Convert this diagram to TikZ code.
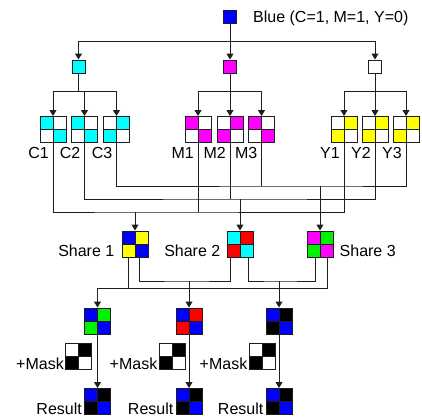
\documentclass[tikz,border=0pt]{standalone}
\usepackage{fontspec}
\setmainfont{Liberation Sans}
\usetikzlibrary{positioning,arrows.meta,calc}
\definecolor{edge}{RGB}{30,30,30}
\definecolor{pblue}{RGB}{0,0,255}
\definecolor{pcyan}{RGB}{0,255,255}
\definecolor{pmag}{RGB}{255,0,255}
\definecolor{pyel}{RGB}{255,255,0}
\definecolor{pred}{RGB}{255,0,0}
\definecolor{pgreen}{RGB}{0,240,0}

\begin{document}
\begin{tikzpicture}[
  >={Triangle[width=7pt,length=6pt]},
  x=1pt,y=-1pt,
  font=\fontsize{16}{18}\selectfont,
  wire/.style={line width=1pt, draw=edge},
  dot/.style={draw=edge, line width=1pt, minimum size=13pt, inner sep=0pt, fill=#1},
  quad/.style n args={4}{draw=edge, line width=1pt, minimum size=26pt, inner sep=0pt,
    path picture={
      \fill[#1] (path picture bounding box.north west) rectangle (path picture bounding box.center);
      \fill[#2] (path picture bounding box.north east) rectangle (path picture bounding box.center);
      \fill[#3] (path picture bounding box.south west) rectangle (path picture bounding box.center);
      \fill[#4] (path picture bounding box.south east) rectangle (path picture bounding box.center);
      \draw[edge, line width=1pt] (path picture bounding box.north) -- (path picture bounding box.south)
        (path picture bounding box.west) -- (path picture bounding box.east);
    }},
  lab/.style={inner sep=0pt}
]
\useasboundingbox (0,0) rectangle (422,418);

% top: the colour and its three channels
\node[dot=pblue] (blue) at (230,16.5) {};
\node[lab, anchor=base west] (bluetxt) at ([xshift=16pt,yshift=1pt]blue.south east) {Blue (C=1, M=1, Y=0)};

\node[dot=pcyan] (cy) at (78.5,66.5) {};
\node[dot=pmag] (mg) at (230,66.5) {};
\node[dot=white] (wh) at (375,66.5) {};

\coordinate (top) at (230,41);
\draw[wire,->] (blue) -- (mg);
\draw[wire,->] (top) -| (cy);
\draw[wire,->] (top) -| (wh);

% channel patterns
\node[quad={pcyan}{white}{white}{pcyan}] (c1) at (53,129.5) {};
\node[quad={pcyan}{white}{white}{pcyan}] (c2) at (84.5,129.5) {};
\node[quad={white}{pcyan}{pcyan}{white}] (c3) at (116.5,129.5) {};
\node[quad={pmag}{white}{white}{pmag}] (m1) at (198,129.5) {};
\node[quad={white}{pmag}{pmag}{white}] (m2) at (230,129.5) {};
\node[quad={pmag}{white}{white}{pmag}] (m3) at (261.5,129.5) {};
\node[quad={white}{pyel}{pyel}{white}] (y1) at (344,129.5) {};
\node[quad={white}{pyel}{pyel}{white}] (y2) at (375,129.5) {};
\node[quad={white}{pyel}{pyel}{white}] (y3) at (406,129.5) {};

\foreach \q/\t in {c1/C1,c2/C2,c3/C3,m1/M1,m2/M2,m3/M3,y1/Y1,y2/Y2,y3/Y3}
  \node[lab, anchor=north east] (l\q) at ([xshift=-4pt,yshift=-4.5pt]\q.south) {\t};

\coordinate (jc) at (cy.south |- 0,91);
\coordinate (jm) at (mg.south |- 0,91);
\coordinate (jw) at (wh.south |- 0,91);
\draw[wire] (cy) -- (jc);
\draw[wire] (mg) -- (jm);
\draw[wire] (wh) -- (jw);
\foreach \q in {c1,c2,c3} \draw[wire,->] (jc) -| (\q);
\foreach \q in {m1,m2,m3} \draw[wire,->] (jm) -| (\q);
\foreach \q in {y1,y2,y3} \draw[wire,->] (jw) -| (\q);

% shares
\node[quad={pblue}{pyel}{pyel}{pblue}] (s1) at (135,244) {};
\node[quad={pcyan}{pred}{pred}{pcyan}] (s2) at (240,244) {};
\node[quad={pmag}{pgreen}{pgreen}{pmag}] (s3) at (320,244) {};
\node[lab, anchor=base east] (ls1) at ([xshift=-7pt,yshift=1pt]s1.south west) {Share 1};
\node[lab, anchor=base east] (ls2) at ([xshift=-6pt,yshift=1pt]s2.south west) {Share 2};
\node[lab, anchor=base west] (ls3) at ([xshift=6pt,yshift=1pt]s3.south east) {Share 3};

\coordinate (b1) at (135,212);
\coordinate (b2) at (240,199);
\coordinate (b3) at (320,186);
\draw[wire] (c1) |- (b1) -| (y1);
\draw[wire] (m1) -- (m1 |- b1);
\draw[wire,->] (b1) -- (s1);
\draw[wire] (c2) |- (b2) -| (y2);
\draw[wire] (m2) -- (m2 |- b2);
\draw[wire,->] (b2) -- (s2);
\draw[wire] (c3) |- (b3) -| (y3);
\draw[wire] (m3) -- (m3 |- b3);
\draw[wire,->] (b3) -- (s3);

% stacking two shares
\node[quad={pblue}{pgreen}{pgreen}{pblue}] (o1) at (97.5,321) {};
\node[quad={pblue}{pred}{pred}{pblue}] (o2) at (189,321) {};
\node[quad={pblue}{black}{black}{pblue}] (o3) at (279,321) {};

\coordinate (t1a) at ([xshift=-7pt]s1.south);
\coordinate (t1b) at ([xshift=4pt]s1.south);
\coordinate (t2a) at ([xshift=-10pt]s2.south);
\coordinate (t2b) at ([xshift=8pt]s2.south);
\coordinate (t3a) at ([xshift=-5pt]s3.south);
\coordinate (t3b) at ([xshift=7pt]s3.south);

\coordinate (d1) at (o1 |- 0,288);
\coordinate (d2) at (o2 |- 0,281);
\coordinate (d3) at (o3 |- 0,281);
\draw[wire] (t1b) |- (d2) -| (t2a);
\draw[wire,->] (d2) -- (o2);
\draw[wire] (t2b) |- (d3) -| (t3a);
\draw[wire,->] (d3) -- (o3);
\draw[wire,->] (t3b) |- (d1) -- (o1);
\draw[wire] (t1a) -- (t1a |- d1);

% mask and result
\node[quad={white}{black}{black}{white}] (k1) at (78.5,356.5) {};
\node[quad={white}{black}{black}{white}] (k2) at (172,356.5) {};
\node[quad={white}{black}{black}{white}] (k3) at (262,356.5) {};
\node[quad={pblue}{black}{black}{pblue}] (r1) at (97.5,401.5) {};
\node[quad={pblue}{black}{black}{pblue}] (r2) at (189,401.5) {};
\node[quad={pblue}{black}{black}{pblue}] (r3) at (279,401.5) {};

\foreach \i in {1,2,3} {
  \draw[wire,->] (o\i) -- (r\i);
  \node[lab, anchor=base east] (lk\i) at ([xshift=-1pt,yshift=1pt]k\i.south west) {+Mask};
  \node[lab, anchor=base east] (lr\i) at ([xshift=-2pt,yshift=1pt]r\i.south west) {Result};
}

\end{tikzpicture}
\end{document}
